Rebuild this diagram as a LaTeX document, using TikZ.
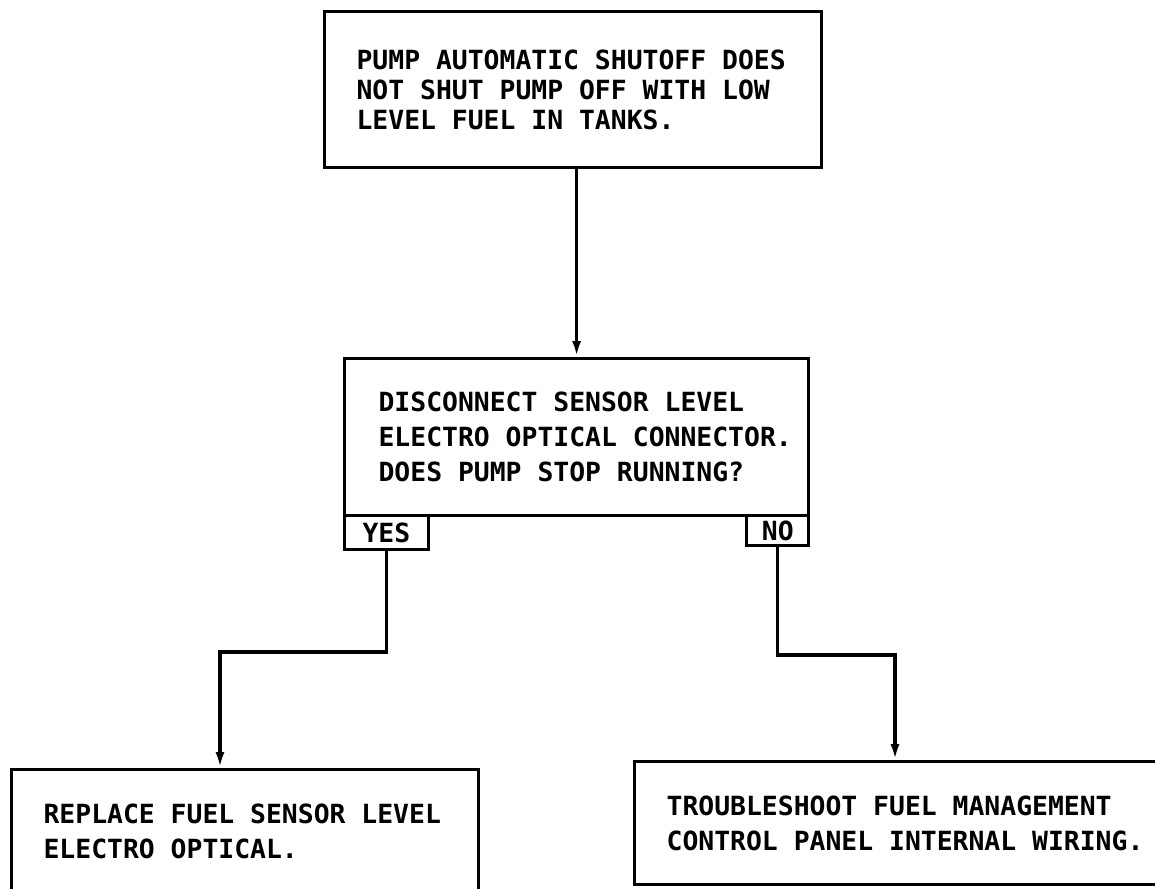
\documentclass[tikz,border=0pt]{standalone}
\usepackage{fontspec}
\newfontfamily\chartfont{DejaVu Sans Mono}
\newcommand\fixspace{\spaceskip=0.602em\relax\xspaceskip=0.602em\relax}
\usetikzlibrary{arrows.meta,positioning}

\tikzset{
  stepbox/.style={draw=black, line width=1.6pt, anchor=north west,
    inner xsep=16pt, inner ysep=0pt, align=left,
    font=\chartfont\bfseries\fontsize{13.2}{17.5}\selectfont,
    execute at begin node=\fixspace},
  tabbox/.style={draw=black, line width=1.4pt, inner sep=0pt,
    font=\chartfont\bfseries\fontsize{13.2}{15}\selectfont},
  flow/.style={line width=1.6pt, -{Latex[length=8pt,width=4.5pt]}}
}

\begin{document}
\begin{tikzpicture}[x=0.5pt,y=-0.5pt]
\clip (0,0) rectangle (1155,888);
%%%%%%%%% fault
\node[stepbox, text width=216.5pt, minimum height=78pt,
      font=\chartfont\bfseries\fontsize{13.2}{15}\selectfont] (fault) at (323,10)
  {PUMP AUTOMATIC SHUTOFF DOES\\NOT SHUT PUMP OFF WITH LOW\\LEVEL FUEL IN TANKS.};

%%%%%%%%% check
\node[stepbox, text width=216pt, inner xsep=8pt, minimum height=78.5pt,
      execute at begin node={\fixspace\leftskip=9pt}] (check) at (343,357)
  {DISCONNECT SENSOR LEVEL\\ELECTRO OPTICAL CONNECTOR.\\DOES PUMP STOP RUNNING?};
\node[tabbox, minimum width=42pt, minimum height=17pt,
      below right=-1.5pt and 0pt of check.south west] (yes) {YES};
\node[tabbox, minimum width=31pt, minimum height=15pt,
      below left=-1.5pt and 0pt of check.south east] (no) {NO};

%%%%%%%%% results
\node[stepbox, text width=201.5pt, minimum height=61.5pt] (replace) at (10,768)
  {REPLACE FUEL SENSOR LEVEL\\ELECTRO OPTICAL.};
\node[stepbox, text width=241.5pt, minimum height=61.5pt] (wiring) at (633,760)
  {TROUBLESHOOT FUEL MANAGEMENT\\CONTROL PANEL INTERNAL WIRING.};

%%%%%%%%% connectors
\coordinate (ybend) at (220,652);
\coordinate (nbend) at (895,655);
\draw[flow] (check.north |- fault.south) -- (check.north);
\draw[flow] (yes.south) |- (ybend) -- (ybend |- replace.north);
\draw[flow] (no.south) |- (nbend) -- (nbend |- wiring.north);
\end{tikzpicture}
\end{document}
